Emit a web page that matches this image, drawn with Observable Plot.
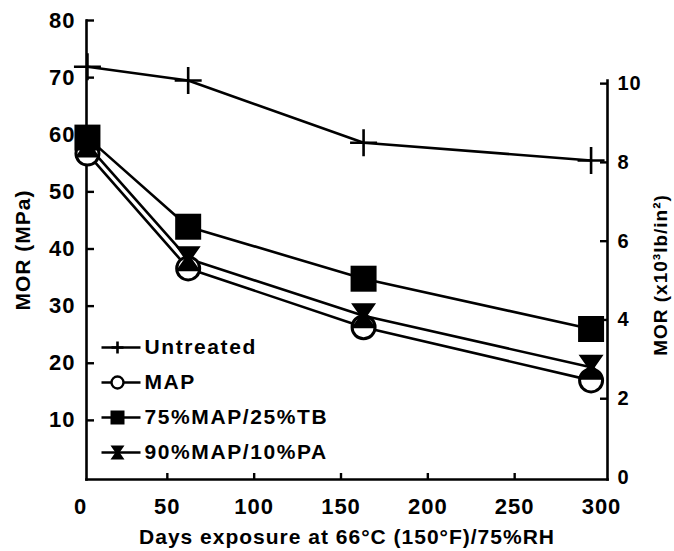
<!DOCTYPE html>
<html>
<head>
<meta charset="utf-8">
<script src="https://cdn.jsdelivr.net/npm/d3@7"></script>
<script src="https://cdn.jsdelivr.net/npm/@observablehq/plot@0.6"></script>
<style>
  html, body { margin: 0; padding: 0; background: #fff; }
  #chart svg text { letter-spacing: 1px; }
  #chart svg g.legend-text text { letter-spacing: 1.6px; }
</style>
</head>
<body>
<div id="chart"></div>
<script>
// ---- data ----
const days = [4, 62, 163, 294];
const untreated = [71.9, 69.5, 58.6, 55.5];
const mapOnly = [56.7, 36.6, 26.3, 17.0];
const map75tb25 = [59.5, 43.9, 34.8, 26.0];
const map90pa10 = [58.2, 38.3, 28.3, 19.3];
const seriesNames = ["Untreated", "MAP", "75%MAP/25%TB", "90%MAP/10%PA"];
const xTicks = [0, 50, 100, 150, 200, 250, 300];
const leftTicks = [10, 20, 30, 40, 50, 60, 70, 80];
const rightTicksKsi = [0, 2, 4, 6, 8, 10];
const MPA_PER_KSI = 6.895;
const xTitle = "Days exposure at 66°C (150°F)/75%RH";
const yTitleLeft = "MOR (MPa)";
const yTitleRight = "MOR (x10³lb/in²)";

const seriesValues = [untreated, mapOnly, map75tb25, map90pa10];
const rows = seriesNames.flatMap((name, s) =>
  days.map((d, i) => ({series: name, day: d, mor: seriesValues[s][i]})));

// ---- custom symbols ----
const half = size => Math.sqrt(size / Math.PI);
const plusSym = {draw(c, size) { const s = half(size); c.moveTo(-s, 0); c.lineTo(s, 0); c.moveTo(0, -s); c.lineTo(0, s); }};
const squareSym = {draw(c, size) { const s = half(size); c.moveTo(-s, -s); c.lineTo(s, -s); c.lineTo(s, s); c.lineTo(-s, s); c.closePath(); }};
const bowtieSym = {draw(c, size) { const s = half(size); c.moveTo(-s, -s); c.lineTo(s, -s); c.lineTo(s * 0.3, 0); c.lineTo(s, s); c.lineTo(-s, s); c.lineTo(-s * 0.3, 0); c.closePath(); }};
const legendLineSym = {draw(c) { c.moveTo(-16, 0); c.lineTo(23, 0); }};

const styles = {
  "Untreated": {symbol: plusSym, fill: "none", stroke: "black", strokeWidth: 2.6},
  "MAP": {symbol: "circle", fill: "white", stroke: "black", strokeWidth: 3},
  "75%MAP/25%TB": {symbol: squareSym, fill: "black", stroke: "none"},
  "90%MAP/10%PA": {symbol: bowtieSym, fill: "black", stroke: "none"}
};
const mainR = {"Untreated": 13.5, "MAP": 11.5, "75%MAP/25%TB": 13, "90%MAP/10%PA": 12.5};
const legendR = {"Untreated": 6, "MAP": 6, "75%MAP/25%TB": 7, "90%MAP/10%PA": 7};
const drawOrder = ["MAP", "90%MAP/10%PA", "75%MAP/25%TB", "Untreated"];

const W = 674, H = 551;
const mL = 86, mR = 67, mT = 20, mB = 72;
const frameW = W - mL - mR, frameH = H - mT - mB;

const marks = [];
// frame sides
marks.push(Plot.frame({anchor: "left", strokeWidth: 2.6}));
marks.push(Plot.frame({anchor: "bottom", strokeWidth: 2.6}));
marks.push(Plot.frame({anchor: "right", strokeWidth: 2.6, insetTop: 60}));
// inward ticks
marks.push(Plot.tickY(leftTicks, {y: d => d, insetRight: frameW - 8, strokeWidth: 2.4}));
marks.push(Plot.tickY(rightTicksKsi.filter(k => k > 0), {y: k => k * MPA_PER_KSI, insetLeft: frameW - 7, strokeWidth: 2.4}));
marks.push(Plot.tickX(xTicks.filter(t => t > 0 && t < 300), {x: d => d, insetTop: frameH - 6, strokeWidth: 2.4}));
// axes labels
marks.push(Plot.axisY(leftTicks, {anchor: "left", label: null, tickSize: 0, tickPadding: 11, fontSize: 22}));
marks.push(Plot.axisY(rightTicksKsi.map(k => k * MPA_PER_KSI), {anchor: "right", label: null, tickSize: 0, tickPadding: 10, fontSize: 20, tickFormat: d => String(Math.round(d / MPA_PER_KSI))}));
marks.push(Plot.axisX(xTicks, {anchor: "bottom", label: null, tickSize: 0, tickPadding: 19, fontSize: 22}));
// titles
marks.push(Plot.text([xTitle], {text: d => d, frameAnchor: "bottom", textAnchor: "middle", dy: 58, fontSize: 21, lineAnchor: "middle"}));
marks.push(Plot.text([yTitleLeft], {text: d => d, frameAnchor: "left", textAnchor: "middle", rotate: -90, dx: -63, dy: 0, fontSize: 21, lineAnchor: "middle"}));
marks.push(Plot.text([yTitleRight], {text: d => d, frameAnchor: "right", textAnchor: "middle", rotate: -90, dx: 53, dy: 25, fontSize: 19, lineAnchor: "middle"}));
// data lines
marks.push(Plot.line(rows, {x: "day", y: "mor", z: "series", stroke: "black", strokeWidth: 2.6}));
// data markers
for (const name of drawOrder) {
  const st = styles[name];
  marks.push(Plot.dot(rows.filter(r => r.series === name), {x: "day", y: "mor", r: mainR[name], ...st}));
}
// legend
seriesNames.forEach((name, i) => {
  const dy = 327 + 35 * i;
  marks.push(Plot.dot([name], {frameAnchor: "top-left", dx: 31, dy, symbol: legendLineSym, stroke: "black", fill: "none", strokeWidth: 2.6}));
  marks.push(Plot.dot([name], {frameAnchor: "top-left", dx: 31, dy, r: legendR[name], ...styles[name], strokeWidth: name === "MAP" ? 2.4 : (styles[name].strokeWidth || 0)}));
  marks.push(Plot.text([name], {text: d => d, frameAnchor: "top-left", dx: 58, dy, textAnchor: "start", lineAnchor: "middle", fontSize: 21, className: "legend-text"}));
});

const chart = Plot.plot({
  width: W, height: H,
  marginLeft: mL, marginRight: mR, marginTop: mT, marginBottom: mB,
  x: {domain: [0, 300], range: [80, 601]},
  y: {domain: [0, 80], range: [477, 20]},
  style: {fontFamily: "'Liberation Sans', Arial, sans-serif", fontWeight: "bold", fontSize: "21px", color: "black", background: "white"},
  marks
});
document.getElementById("chart").append(chart);
</script>
</body>
</html>
